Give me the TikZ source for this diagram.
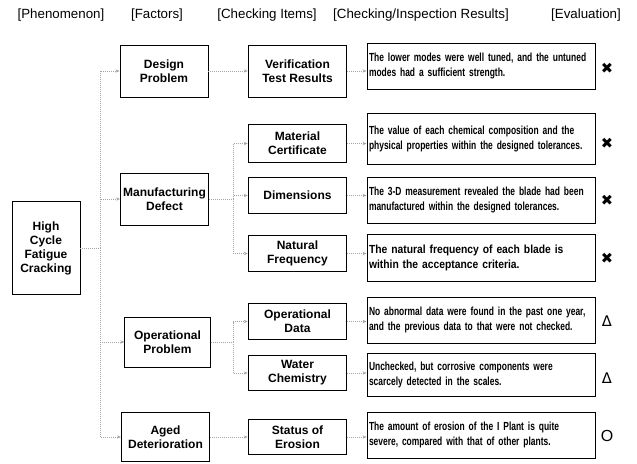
\documentclass[tikz,border=0pt]{standalone}
\usepackage{fontspec}
\setmainfont{Liberation Sans}
\newfontfamily\resfont[FakeStretch=0.72]{Liberation Sans}
\newfontfamily\reswide[FakeStretch=0.88]{Liberation Sans}
\newfontfamily\symfont{DejaVu Sans}
\usetikzlibrary{arrows.meta}

\begin{document}
\begin{tikzpicture}[x=0.75pt,y=-0.75pt,
  >={Stealth[length=3pt,width=2.5pt]},
  hdr/.style={font=\fontsize{10}{12}\selectfont},
  box/.style={draw,line width=0.7pt,align=center,inner sep=1pt,font=\bfseries\fontsize{9}{10.5}\selectfont},
  factor/.style={box,minimum width=66pt,minimum height=39pt},
  item/.style={box,minimum width=74pt,minimum height=27pt},
  res/.style={draw,line width=0.7pt,align=left,minimum width=171pt,minimum height=34.5pt,
    inner sep=1.5pt,text width=168pt,font=\resfont\bfseries\fontsize{8.8}{11}\selectfont},
  link/.style={gray!70,densely dotted,line width=0.5pt},
  eval/.style={font=\symfont\fontsize{11}{12}\selectfont}]
\useasboundingbox (0,0) rectangle (637,464);
% column headings
\node[hdr] (hphen) at (61,15) {[Phenomenon]};
\node[hdr] (hfact) at (157,15) {[Factors]};
\node[hdr] (hitem) at (267,15) {[Checking Items]};
\node[hdr] (hres) at (421,15) {[Checking/Inspection Results]};
\node[hdr] (heval) at (586,15) {[Evaluation]};
% phenomenon
\node[box,minimum width=51pt,minimum height=70pt] (hcfc) at (46,248) {High\\Cycle\\Fatigue\\Cracking};
% factors
\node[factor] (design) at (164,71) {Design\\Problem};
\node[factor] (manuf) at (164.5,199) {Manufacturing\\Defect};
\node[factor,minimum width=64pt,minimum height=37.5pt] (oper) at (167.5,342) {Operational\\Problem};
\node[factor,minimum height=37pt] (aged) at (165.5,437) {Aged\\Deterioration};
% checking items
\node[item,minimum height=39pt] (verif) at (297.5,71) {Verification\\Test Results};
\node[item,minimum height=28pt] (mater) at (297.5,143.5) {Material\\Certificate};
\node[item] (dimen) at (297.5,195.5) {Dimensions};
\node[item] (natur) at (297.5,253.5) {Natural\\Frequency};
\node[item] (opdata) at (297.5,321.5) {Operational\\Data};
\node[item,minimum height=26pt] (water) at (297.5,373) {Water\\Chemistry};
\node[item,minimum height=26pt] (erosion) at (297.5,437) {Status of\\Erosion};
% results
\node[res] (r1) at (481,66) {The lower modes were well tuned, and the untuned\\modes had a sufficient strength.};
\node[res,minimum height=38pt] (r2) at (481,139) {The value of each chemical composition and the\\physical properties within the designed tolerances.};
\node[res] (r3) at (481,200) {The 3-D measurement revealed the blade had been\\manufactured within the designed tolerances.};
\node[res,minimum height=35pt,font=\reswide\bfseries\fontsize{8.8}{11}\selectfont] (r4) at (481,258) {The natural frequency of each blade is\\within the acceptance criteria.};
\node[res] (r5) at (481,320) {No abnormal data were found in the past one year,\\and the previous data to that were not checked.};
\node[res,minimum height=32pt] (r6) at (481,375) {Unchecked, but corrosive components were\\scarcely detected in the scales.};
\node[res] (r7) at (481,435) {The amount of erosion of the I Plant is quite\\severe, compared with that of other plants.};
% evaluation
\node[eval] (e1) at (607,68) {✖};
\node[eval] (e2) at (607,143) {✖};
\node[eval] (e3) at (607,200) {✖};
\node[eval] (e4) at (607,258) {✖};
\node[eval] (e5) at (607,321) {Δ};
\node[eval] (e6) at (607,378) {Δ};
\node[eval,font=\fontsize{12}{12}\selectfont] (e7) at (607,436) {O};
% connectors
\coordinate (jA) at (100,248);
\coordinate (jB) at (233,199);
\coordinate (jC) at (233,342);
\draw[link] (hcfc.east) -- (jA);
\foreach \f in {design,manuf,oper,aged}
  \draw[link,->] (jA) |- (\f.west);
\draw[link,->] (design) -- (verif);
\draw[link] (manuf.east) -- (jB);
\foreach \i in {mater,dimen,natur}
  \draw[link,->] (jB) |- (\i.west);
\draw[link] (oper.east) -- (jC);
\foreach \i in {opdata,water}
  \draw[link,->] (jC) |- (\i.west);
\draw[link,->] (aged) -- (erosion);
\draw[link,->] (verif.east) -- (verif.east -| r1.west);
\draw[link,->] (mater.east) -- (mater.east -| r2.west);
\draw[link,->] (dimen.east) -- (dimen.east -| r3.west);
\draw[link,->] (natur.east) -- (natur.east -| r4.west);
\draw[link,->] (opdata.east) -- (opdata.east -| r5.west);
\draw[link,->] (water.east) -- (water.east -| r6.west);
\draw[link,->] (erosion.east) -- (erosion.east -| r7.west);
\end{tikzpicture}
\end{document}
